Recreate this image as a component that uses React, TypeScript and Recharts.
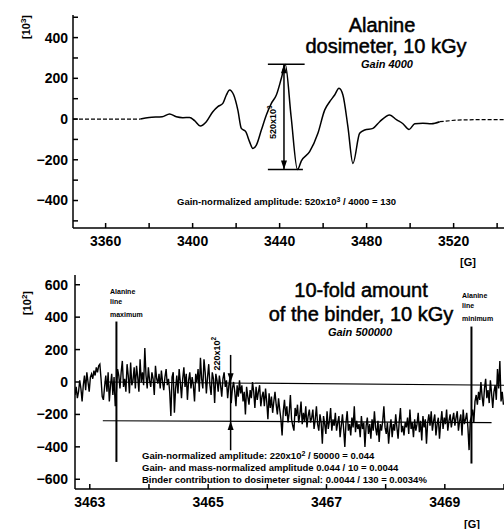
import { LineChart, Line, XAxis, YAxis, ReferenceLine, ReferenceDot } from 'recharts'

const FONT = '"Liberation Sans", Arial, Helvetica, sans-serif'

// upper panel: alanine dosimeter, field [G] vs amplitude [10^3]
const ALANINE_FIELD = [
  3345, 3360, 3370, 3376, 3380, 3386, 3389.4, 3392.5, 3395.5, 3398.6, 3400.9, 3403.5, 3406.3,
  3409.3, 3411.6, 3413.9, 3415.5, 3417, 3418.9, 3420.8, 3422.4, 3424.4, 3426.2, 3427.7, 3429.3,
  3431.6, 3433.9, 3436.2, 3438.5, 3440.8, 3442.6, 3445.3, 3448.2, 3450, 3453.8, 3457.6, 3460.7,
  3463, 3465.3, 3467.3, 3469.1, 3471.4, 3473.7, 3476.8, 3479.1, 3482.9, 3486, 3490.6, 3493.7,
  3496.7, 3499.5, 3502.1, 3505.9, 3509.8, 3513.6, 3521.2, 3530, 3545,
]
const ALANINE_AMP = [
  0, 0, 0, 0, 8, 11, 25, 11, 7, 8, -8, -34, -13,
  36, 61, 77, 118, 143, 118, 44, -46, -62, -112, -144, -128,
  -54, 20, 77, 118, 200, 268, 10, -248, -205, -160, -70, 44,
  85, 118, 151, 118, -38, -218, -70, -54, -46, -13, 20, -3,
  -23, -51, -23, -20, -23, -13, -5, -3, -3,
]
const ALANINE_SOLID_FROM = 3376
const ALANINE_SOLID_TO = 3513.6

const ALANINE_X_TICKS = [3360, 3380, 3400, 3420, 3440, 3460, 3480, 3500, 3520, 3540]
const ALANINE_X_LABELS = [3360, 3400, 3440, 3480, 3520]
const ALANINE_Y_TICKS = [-500, -400, -300, -200, -100, 0, 100, 200, 300, 400, 500]
const ALANINE_Y_LABELS = [-400, -200, 0, 200, 400]

// lower panel: 10-fold binder, field [G] vs amplitude [10^2], sampled every 0.02 G
const BINDER_START = 3462.75
const BINDER_STEP = 0.02
const BINDER_AMP = [
  -80, -30, -100, -60, 10, -40, -120, -20, 40, -50, 60, 0, -60, 30, 50, 20, 70, 40, 90, 60,
  100, 110, 20, -90, -110, -30, 40, -60, 60, -120, -20, 50, -80, 30, -150, -60, 80, 40, -40, 60,
  130, -30, 20, -60, 110, 40, -70, 120, -20, 10, 90, -40, 100, 30, -60, 140, 0, 60, -20, 210,
  40, -40, 90, 10, -30, 60, 20, -80, 100, 20, -10, 50, -40, 70, 0, -50, 30, 80, -20, 20,
  -60, -210, 30, 60, -190, -40, 40, -70, 80, 0, -100, 20, 90, -30, 50, -110, 10, 60, -40, 30,
  -20, -120, 50, 0, 80, -60, 150, 20, -40, 140, 60, -70, 30, 110, -20, -80, 60, 20, -130, 50,
  10, -60, 40, -20, -90, 20, 60, -30, 10, -100, -20, 30, -130, -40, 0, -60, -150, -20, -90, 10,
  -70, -20, -120, -60, -200, -30, -90, -140, -50, -100, 0, -60, -160, -30, -110, -60, -20, -150, -90, -60,
  -150, -40, -120, -230, -70, -160, -90, -190, -120, -60, -140, -200, -100, -170, -230, -330, -180, -110, -210, -150,
  -250, -190, -80, -230, -270, -300, -160, -210, -140, -250, -200, -120, -260, -190, -240, -150, -280, -210, -170, -250,
  -220, -170, -290, -230, -150, -260, -300, -200, -250, -380, -210, -260, -320, -180, -290, -240, -160, -300, -230, -270,
  -190, -300, -250, -210, -340, -270, -200, -290, -400, -250, -180, -300, -260, -330, -220, -280, -150, -310, -240, -290,
  -260, -340, -210, -290, -250, -400, -270, -220, -320, -260, -350, -230, -300, -180, -280, -330, -240, -370, -260, -300,
  -240, -150, -280, -320, -250, -380, -290, -230, -340, -260, -300, -200, -280, -350, -240, -160, -310, -270, -330, -250,
  -280, -220, -320, -170, -290, -250, -340, -230, -300, -260, -190, -310, -240, -360, -210, -280, -230, -380, -250, -200,
  -270, -180, -300, -240, -200, -330, -260, -220, -350, -250, -180, -290, -220, -260, -170, -300, -240, -200, -280, -230,
  -190, -270, -220, -180, -300, -240, -200, -330, -170, -260, -230, -190, -280, -420, -240, -210, -170, -250, -120, -80,
  -140, -60, -110, 0, -90, -150, -40, 20, -100, -50, -130, 10, -70, -160, -60, -20, -110, 80, -40, 130,
  -120, -60, -140,
]
const BINDER_X_TICKS = [3463, 3464, 3465, 3466, 3467, 3468, 3469, 3470]
const BINDER_X_LABELS = [3463, 3465, 3467, 3469]
const BINDER_Y_TICKS = [-600, -400, -200, 0, 200, 400, 600]

const alanineRows = ALANINE_FIELD.map((f, i) => ({
  field: f,
  solid: f >= ALANINE_SOLID_FROM && f <= ALANINE_SOLID_TO ? ALANINE_AMP[i] : null,
  dotted: f <= ALANINE_SOLID_FROM || f >= ALANINE_SOLID_TO ? ALANINE_AMP[i] : null,
}))

const binderRows = BINDER_AMP.map((a, i) => ({
  field: +(BINDER_START + i * BINDER_STEP).toFixed(3),
  amp: a,
}))

const fmt = (v: number) => (v < 0 ? `\u2212${Math.abs(v)}` : `${v}`)
const tickStyle = { fill: '#000', fontSize: 14, fontWeight: 700, fontFamily: FONT }

const arrowHead = (dir: 'up' | 'down') => (p: any) => {
  const { cx, cy } = p
  const s = dir === 'up' ? 1 : -1
  return <polygon points={`${cx},${cy} ${cx - 3},${cy + s * 9} ${cx + 3},${cy + s * 9}`} fill="#000" />
}

const rotatedLabel = (base: string, exp: string) => (p: any) => (
  <text
    x={p.cx}
    y={p.cy}
    transform={`rotate(-90 ${p.cx} ${p.cy})`}
    textAnchor="middle"
    fontSize={9}
    fontWeight={700}
    fontFamily={FONT}
    fill="#000"
  >
    {base}
    <tspan fontSize={6.5} dy={-4}>{exp}</tspan>
  </text>
)

const small = { fontSize: 9.5, fontWeight: 700, fontFamily: FONT, fill: '#000' }
const tiny = { fontSize: 7, fontWeight: 700, fontFamily: FONT, fill: '#000' }
const title = { fontSize: 20, fontFamily: FONT, fill: '#000', stroke: '#000', strokeWidth: 0.5, textAnchor: 'middle' as const }
const gain = { fontSize: 11, fontWeight: 700, fontStyle: 'italic', fontFamily: FONT, fill: '#000', textAnchor: 'middle' as const }
const unit = { fontSize: 11, fontWeight: 700, fontFamily: FONT, fill: '#000', textAnchor: 'middle' as const }

export default function App() {
  return (
    <div style={{ position: 'absolute', left: 0, top: 0, width: 504, height: 529, overflow: 'hidden', background: '#fff' }}>
      <div style={{ position: 'absolute', left: 0, top: 0 }}>
        <LineChart width={512} height={260} data={alanineRows} margin={{ top: 15, right: 4, bottom: 2, left: 13 }}>
          <XAxis
            dataKey="field"
            type="number"
            domain={[3345, 3545]}
            allowDataOverflow
            ticks={ALANINE_X_TICKS}
            interval={0}
            tickFormatter={v => (ALANINE_X_LABELS.includes(v) ? `${v}` : '')}
            tick={tickStyle}
            tickSize={-5}
            tickMargin={13}
            height={30}
            axisLine={{ stroke: '#000', strokeWidth: 1.5 }}
            tickLine={{ stroke: '#000', strokeWidth: 1.5 }}
          />
          <XAxis xAxisId="top" dataKey="field" type="number" domain={[3345, 3545]} orientation="top" height={0} tick={false} tickLine={false} axisLine={{ stroke: '#000', strokeWidth: 1.5 }} />
          <YAxis
            type="number"
            domain={[-535, 511]}
            allowDataOverflow
            ticks={ALANINE_Y_TICKS}
            interval={0}
            tickFormatter={v => (ALANINE_Y_LABELS.includes(v) ? fmt(v) : '')}
            tick={tickStyle}
            tickSize={-5}
            tickMargin={10}
            width={60}
            axisLine={{ stroke: '#000', strokeWidth: 1.5 }}
            tickLine={{ stroke: '#000', strokeWidth: 1.5 }}
          />
          <Line dataKey="dotted" stroke="#000" strokeWidth={1.2} strokeDasharray="4 2" dot={false} activeDot={false} connectNulls={false} isAnimationActive={false} />
          <Line dataKey="solid" type="monotone" stroke="#000" strokeWidth={1.5} dot={false} activeDot={false} connectNulls={false} isAnimationActive={false} />
          <ReferenceLine segment={[{ x: 3434.6, y: 269 }, { x: 3451.5, y: 269 }]} stroke="#000" strokeWidth={1.5} />
          <ReferenceLine segment={[{ x: 3434.6, y: -248 }, { x: 3450.7, y: -248 }]} stroke="#000" strokeWidth={1.5} />
          <ReferenceLine segment={[{ x: 3442, y: 269 }, { x: 3442, y: -248 }]} stroke="#000" strokeWidth={1.5} />
          <ReferenceDot x={3442} y={269} shape={arrowHead('up')} />
          <ReferenceDot x={3442} y={-248} shape={arrowHead('down')} />
          <ReferenceDot x={3438.3} y={-15} shape={rotatedLabel('520x10', '3')} />
        </LineChart>
      </div>

      <div style={{ position: 'absolute', left: 0, top: 260 }}>
        <LineChart width={508} height={269} data={binderRows} margin={{ top: 15, right: 4, bottom: 10, left: 15 }}>
          <XAxis
            dataKey="field"
            type="number"
            domain={[3462.75, 3470]}
            allowDataOverflow
            ticks={BINDER_X_TICKS}
            interval={0}
            tickFormatter={v => (BINDER_X_LABELS.includes(v) ? `${v}` : '')}
            tick={tickStyle}
            tickSize={-5}
            tickMargin={13}
            height={30}
            axisLine={{ stroke: '#000', strokeWidth: 1.5 }}
            tickLine={{ stroke: '#000', strokeWidth: 1.5 }}
          />
          <XAxis xAxisId="top" dataKey="field" type="number" domain={[3462.75, 3470]} orientation="top" height={0} tick={false} tickLine={false} axisLine={{ stroke: '#000', strokeWidth: 1.5 }} />
          <YAxis
            type="number"
            domain={[-660, 660]}
            allowDataOverflow
            ticks={BINDER_Y_TICKS}
            interval={0}
            tickFormatter={fmt}
            tick={tickStyle}
            tickSize={-5}
            tickMargin={12}
            width={60}
            axisLine={{ stroke: '#000', strokeWidth: 1.5 }}
            tickLine={{ stroke: '#000', strokeWidth: 1.5 }}
          />
          <Line dataKey="amp" type="linear" stroke="#000" strokeWidth={1.4} dot={false} activeDot={false} isAnimationActive={false} />
          <ReferenceLine segment={[{ x: 3463.25, y: 0 }, { x: 3470, y: -20 }]} stroke="#000" strokeWidth={1.2} />
          <ReferenceLine segment={[{ x: 3463.22, y: -239 }, { x: 3469.79, y: -250 }]} stroke="#000" strokeWidth={1.2} />
          <ReferenceLine segment={[{ x: 3463.45, y: 373 }, { x: 3463.45, y: -493 }]} stroke="#000" strokeWidth={2} />
          <ReferenceLine segment={[{ x: 3469.45, y: 342 }, { x: 3469.45, y: -503 }]} stroke="#000" strokeWidth={2} />
          <ReferenceLine segment={[{ x: 3465.38, y: 167 }, { x: 3465.38, y: -421 }]} stroke="#000" strokeWidth={1.5} />
          <ReferenceDot x={3465.38} y={-2} shape={arrowHead('down')} />
          <ReferenceDot x={3465.38} y={-240} shape={arrowHead('up')} />
          <ReferenceDot x={3465.2} y={175} shape={rotatedLabel('220x10', '2')} />
        </LineChart>
      </div>

      <svg width={504} height={529} style={{ position: 'absolute', left: 0, top: 0, pointerEvents: 'none' }}>
        <text x={382} y={32} {...title}>Alanine</text>
        <text x={386} y={53} {...title}>dosimeter, 10 kGy</text>
        <text x={387} y={68} {...gain}>Gain 4000</text>
        <text x={177} y={205} {...small}>
          Gain-normalized amplitude: 520x10<tspan fontSize={7} dy={-3}>3</tspan>
          <tspan dy={3}> / 4000 = 130</tspan>
        </text>
        <text x={26} y={27} transform="rotate(-90 26 27)" dy={4} {...unit}>
          [10<tspan fontSize={8} dy={-4}>3</tspan><tspan dy={4}>]</tspan>
        </text>
        <text x={468} y={266} {...unit}>[G]</text>

        <text x={361} y={297} {...title}>10-fold amount</text>
        <text x={361} y={321} {...title}>of the binder, 10 kGy</text>
        <text x={360} y={336} {...gain}>Gain 500000</text>
        <text x={110} y={294} {...tiny}>Alanine</text>
        <text x={110} y={304} {...tiny}>line</text>
        <text x={110} y={317} {...tiny}>maximum</text>
        <text x={462} y={298} {...tiny}>Alanine</text>
        <text x={462} y={308} {...tiny}>line</text>
        <text x={462} y={321} {...tiny}>minimum</text>
        <text x={142} y={459} {...small}>
          Gain-normalized amplitude: 220x10<tspan fontSize={7} dy={-3}>2</tspan>
          <tspan dy={3}> / 50000 = 0.044</tspan>
        </text>
        <text x={142} y={471} {...small}>Gain- and mass-normalized amplitude  0.044 / 10 = 0.0044</text>
        <text x={142} y={483} {...small}>Binder contribution to dosimeter signal: 0.0044 / 130 = 0.0034%</text>
        <text x={27} y={303} transform="rotate(-90 27 303)" dy={4} {...unit}>
          [10<tspan fontSize={8} dy={-4}>2</tspan><tspan dy={4}>]</tspan>
        </text>
        <text x={472} y={528} {...unit}>[G]</text>
      </svg>
    </div>
  )
}
